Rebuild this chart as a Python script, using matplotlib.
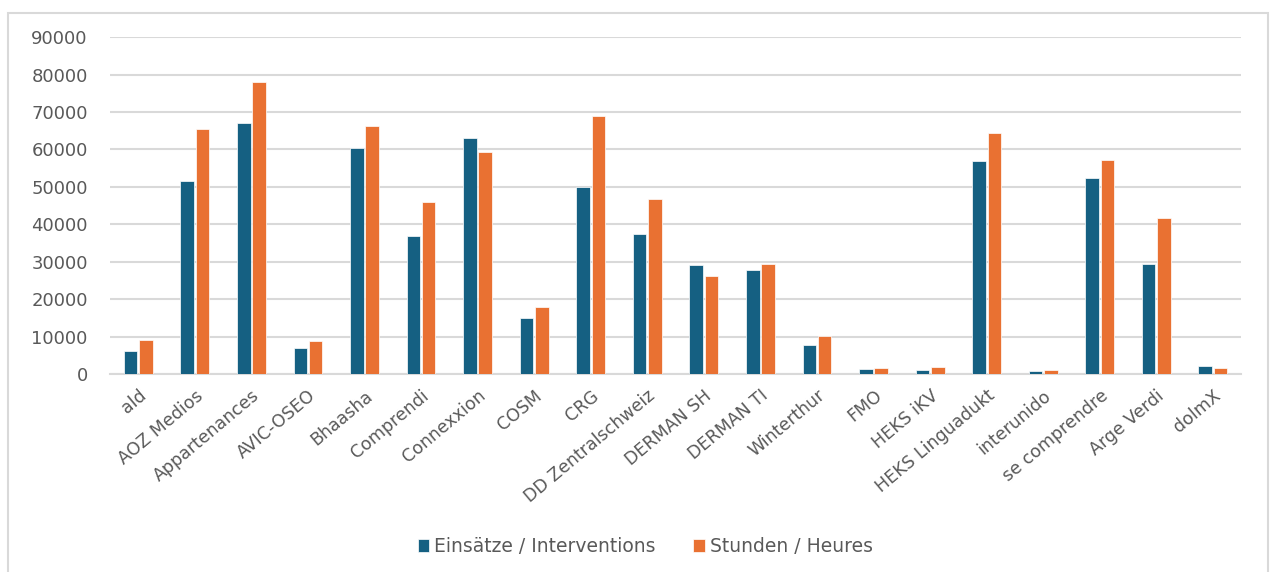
import numpy as np
import matplotlib.pyplot as plt
from matplotlib.patches import Rectangle

plt.rcParams['font.family'] = ['DejaVu Sans']

# categories and values
agencies = ['ald', 'AOZ Medios', 'Appartenances', 'AVIC-OSEO', 'Bhaasha',
            'Comprendi', 'Connexxion', 'COSM', 'CRG', 'DD Zentralschweiz',
            'DERMAN SH', 'DERMAN TI', 'Winterthur', 'FMO', 'HEKS iKV',
            'HEKS Linguadukt', 'interunido', 'se comprendre', 'Arge Verdi', 'dolmX']
einsaetze = [6200, 51700, 67000, 6900, 60500, 36800, 63100, 15100, 49900, 37300,
             29100, 27700, 7800, 1300, 1000, 56900, 700, 52500, 29400, 2200]
stunden = [9200, 65500, 78100, 8900, 66300, 46100, 59300, 18000, 69000, 46700,
           26200, 29400, 10100, 1500, 1800, 64300, 1000, 57200, 41700, 1500]
yticks = [0, 10000, 20000, 30000, 40000, 50000, 60000, 70000, 80000, 90000]

blue = '#156082'
orange = '#E97132'
grey_text = '#595959'
grid_col = '#D9D9D9'

fig = plt.figure(figsize=(12.73, 5.72), dpi=100)
ax = fig.add_axes([0.0864, 0.346, 0.975 - 0.0864, 0.935 - 0.346])

x = np.arange(len(agencies))
w = 0.24
ax.bar(x - 0.135, einsaetze, w, color=blue, edgecolor='white', linewidth=0.5,
       label='Einsätze / Interventions', zorder=3)
ax.bar(x + 0.135, stunden, w, color=orange, edgecolor='white', linewidth=0.5,
       label='Stunden / Heures', zorder=3)

ax.set_xlim(-0.5, len(agencies) - 0.5)
ax.set_ylim(0, 90000)
ax.set_yticks(yticks)
ax.set_yticklabels([str(v) for v in yticks])
ax.set_xticks(x)
ax.set_xticklabels(agencies, rotation=40, ha='right', rotation_mode='anchor')
ax.tick_params(axis='both', length=0, labelcolor=grey_text)
ax.tick_params(axis='y', pad=16, labelsize=13)
ax.tick_params(axis='x', pad=9, labelsize=12.5)
ax.grid(axis='y', color=grid_col, linewidth=1.5, zorder=0)
for s in ['top', 'right', 'left']:
    ax.spines[s].set_visible(False)
ax.spines['bottom'].set_color(grid_col)
ax.spines['bottom'].set_linewidth(1.5)

fig.legend(loc='center', bbox_to_anchor=(0.507, 0.044), ncol=2, frameon=False,
           fontsize=13.5, labelcolor=grey_text, handlelength=0.6, handleheight=0.7,
           handletextpad=0.3, columnspacing=2.0)

# outer chart frame
fig.patches.append(Rectangle((8 / 1273, -0.05), 1260 / 1273, 1.05 - 13 / 572,
                             transform=fig.transFigure, fill=False,
                             edgecolor=grid_col, linewidth=1.5))

fig.savefig('out.png', dpi=100)
